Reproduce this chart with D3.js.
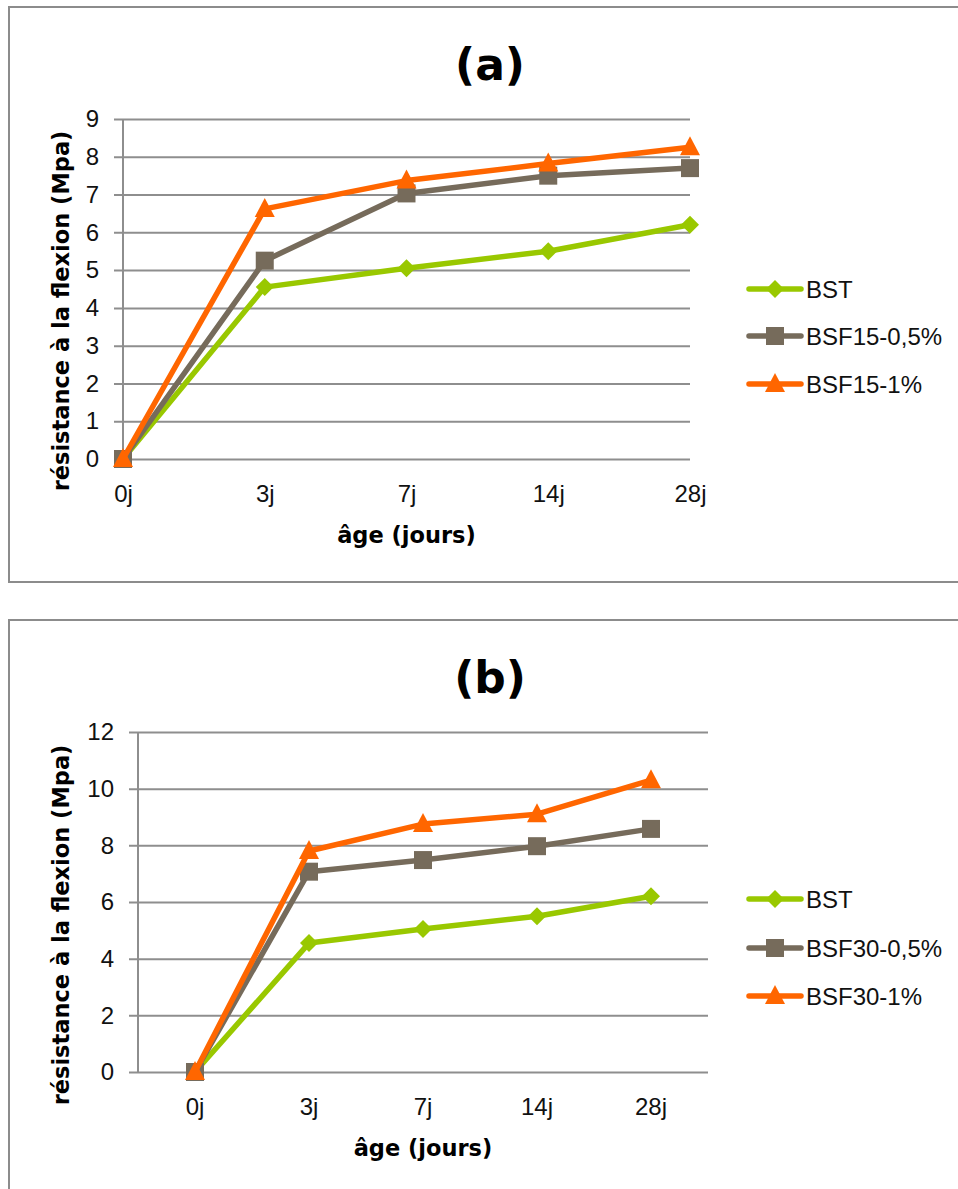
<!DOCTYPE html>
<html>
<head>
<meta charset="utf-8">
<script src="https://cdn.jsdelivr.net/npm/d3@7"></script>
<style>
  html, body { margin: 0; padding: 0; background: #fff; }
  svg { display: block; }
</style>
</head>
<body>
<svg id="chart" width="958" height="1189"></svg>
<script>
// ---- data ----
const categories = ["0j", "3j", "7j", "14j", "28j"];
const bstValues    = [0, 4.55, 5.05, 5.5, 6.2];
const bsf15Half    = [0, 5.25, 7.03, 7.5, 7.7];
const bsf15One     = [0, 6.62, 7.37, 7.82, 8.25];
const bsf30Half    = [0, 7.07, 7.48, 7.97, 8.58];
const bsf30One     = [0, 7.8, 8.75, 9.1, 10.3];
const yTicksA = [0, 1, 2, 3, 4, 5, 6, 7, 8, 9];
const yTicksB = [0, 2, 4, 6, 8, 10, 12];
const seriesNamesA = ["BST", "BSF15-0,5%", "BSF15-1%"];
const seriesNamesB = ["BST", "BSF30-0,5%", "BSF30-1%"];
const titleA = "(a)", titleB = "(b)";
const yTitle = "résistance à la flexion (Mpa)";
const xTitle = "âge (jours)";

const colors = ["#99C800", "#766B5B", "#FF6600"];
const shapes = ["diamond", "square", "triangle"];

const svg = d3.select("#chart");
const tickFont = "'Liberation Sans', Arial, sans-serif";
const boldFont = "'DejaVu Sans', sans-serif";

function markerPath(shape) {
  if (shape === "diamond") return "M0,-9L9,0L0,9L-9,0Z";
  if (shape === "square") return "M-9,-9H9V9H-9Z";
  return "M0,-11L10,8L-10,8Z";
}

function drawChart(cfg) {
  const g = svg.append("g");
  // outer border
  g.append("rect")
    .attr("x", cfg.box[0]).attr("y", cfg.box[1])
    .attr("width", cfg.box[2]).attr("height", cfg.box[3])
    .attr("fill", "none").attr("stroke", "#8C8C8C").attr("stroke-width", 2);

  const y = d3.scaleLinear().domain(cfg.yDomain).range([cfg.plotBottom, cfg.plotTop]);
  let x;
  if (cfg.between) {
    x = d3.scaleBand().domain(categories).range([cfg.axisX, cfg.gridRight]);
  } else {
    x = d3.scalePoint().domain(categories).range([cfg.axisX, cfg.gridRight]);
  }
  const xc = d => cfg.between ? x(d) + x.bandwidth() / 2 : x(d);

  // gridlines + y tick labels
  const yAxis = d3.axisLeft(y).tickValues(cfg.yTicks)
    .tickSizeInner(-(cfg.gridRight - cfg.gridLeft)).tickSizeOuter(0).tickPadding(15)
    .tickFormat(d3.format("d"));
  const ya = g.append("g").attr("transform", `translate(${cfg.gridLeft},0)`).call(yAxis);
  ya.select(".domain").remove();
  ya.selectAll("line").attr("stroke", "#8E8E8E").attr("stroke-width", 2);
  ya.selectAll("text").attr("font-family", tickFont).attr("font-size", 24).attr("fill", "#111");

  // vertical axis line
  g.append("line")
    .attr("x1", cfg.axisX).attr("x2", cfg.axisX)
    .attr("y1", y(cfg.yDomain[1])).attr("y2", y(0))
    .attr("stroke", "#8E8E8E").attr("stroke-width", 2);

  // x tick labels
  const xAxis = d3.axisBottom(x).tickSize(0).tickPadding(0);
  const xa = g.append("g").attr("transform", `translate(0,${cfg.plotBottom})`).call(xAxis);
  xa.select(".domain").remove();
  xa.selectAll("text").attr("font-family", tickFont).attr("font-size", 24).attr("fill", "#111")
    .attr("dy", null).attr("y", 43);

  // series
  const line = d3.line().x((d, i) => xc(categories[i])).y(d => y(d));
  cfg.series.forEach((vals, si) => {
    g.append("path").datum(vals).attr("d", line)
      .attr("fill", "none").attr("stroke", colors[si]).attr("stroke-width", 5.5)
      .attr("stroke-linejoin", "round");
    g.selectAll(null).data(vals).enter().append("path")
      .attr("d", markerPath(shapes[si]))
      .attr("transform", (d, i) => `translate(${xc(categories[i])},${y(d)})`)
      .attr("fill", colors[si]);
  });

  // title
  g.append("text").text(cfg.title)
    .attr("x", cfg.titleX).attr("y", cfg.titleY)
    .attr("text-anchor", "middle").attr("dominant-baseline", "central")
    .attr("font-family", boldFont).attr("font-weight", "bold").attr("font-size", 44).attr("fill", "#000");

  // y title
  g.append("text").text(yTitle)
    .attr("transform", `translate(${cfg.yTitleX},${cfg.yTitleY}) rotate(-90)`)
    .attr("text-anchor", "middle").attr("dominant-baseline", "central")
    .attr("font-family", boldFont).attr("font-weight", "bold").attr("font-size", 22.5).attr("fill", "#000");

  // x title
  g.append("text").text(xTitle)
    .attr("x", (cfg.axisX + cfg.gridRight) / 2).attr("y", cfg.xTitleY)
    .attr("text-anchor", "middle").attr("dominant-baseline", "central")
    .attr("font-family", boldFont).attr("font-weight", "bold").attr("font-size", 22.5).attr("fill", "#000");

  // legend
  cfg.names.forEach((name, si) => {
    const ly = cfg.legendY[si];
    const lg = g.append("g");
    lg.append("line").attr("x1", 749).attr("x2", 801).attr("y1", ly).attr("y2", ly)
      .attr("stroke", colors[si]).attr("stroke-width", 5.5).attr("stroke-linecap", "round");
    lg.append("path").attr("d", markerPath(shapes[si]))
      .attr("transform", `translate(775,${ly})`).attr("fill", colors[si]);
    lg.append("text").text(name).attr("x", 806).attr("y", ly)
      .attr("dominant-baseline", "central")
      .attr("font-family", tickFont).attr("font-size", 24).attr("fill", "#111");
  });
}

drawChart({
  box: [9, 7, 960, 575],
  yDomain: [0, 9], yTicks: yTicksA,
  plotTop: 119, plotBottom: 459,
  gridLeft: 114, axisX: 123, gridRight: 690, between: false,
  series: [bstValues, bsf15Half, bsf15One], names: seriesNamesA,
  title: titleA, titleX: 490, titleY: 64,
  yTitleX: 61, yTitleY: 311, xTitleY: 535,
  legendY: [289, 336, 384]
});

drawChart({
  box: [9, 620, 960, 580],
  yDomain: [0, 12], yTicks: yTicksB,
  plotTop: 732, plotBottom: 1072,
  gridLeft: 129, axisX: 138, gridRight: 708, between: true,
  series: [bstValues, bsf30Half, bsf30One], names: seriesNamesB,
  title: titleB, titleX: 490, titleY: 677,
  yTitleX: 61, yTitleY: 925, xTitleY: 1148,
  legendY: [899, 948, 996]
});
</script>
</body>
</html>
